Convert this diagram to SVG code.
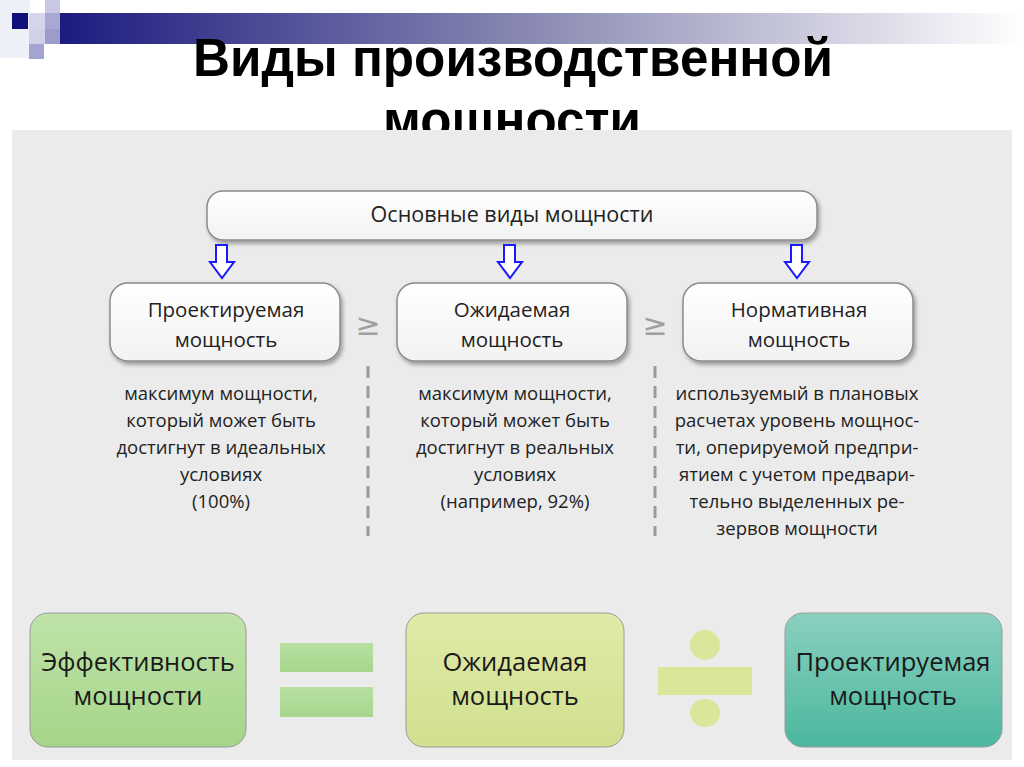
<svg xmlns="http://www.w3.org/2000/svg" width="1024" height="767" viewBox="0 0 1024 767">
<defs>
<linearGradient id="bar" x1="0" y1="0" x2="1" y2="0"><stop offset="0" stop-color="#1c1c80"/><stop offset="0.5" stop-color="#8c8cb4"/><stop offset="1" stop-color="#ffffff"/></linearGradient>
<linearGradient id="wbox" x1="0" y1="0" x2="0" y2="1"><stop offset="0" stop-color="#ffffff"/><stop offset="1" stop-color="#f2f2f2"/></linearGradient>
<linearGradient id="gA" x1="0" y1="0" x2="0" y2="1"><stop offset="0" stop-color="#bfe3a8"/><stop offset="1" stop-color="#a6d58a"/></linearGradient>
<linearGradient id="gB" x1="0" y1="0" x2="0" y2="1"><stop offset="0" stop-color="#e0eaa8"/><stop offset="1" stop-color="#d0e08e"/></linearGradient>
<linearGradient id="gC" x1="0" y1="0" x2="0" y2="1"><stop offset="0" stop-color="#8ad0bf"/><stop offset="1" stop-color="#4cb79f"/></linearGradient>
<linearGradient id="gEq" x1="0" y1="0" x2="0" y2="1"><stop offset="0" stop-color="#b8e0a2"/><stop offset="1" stop-color="#a6d68c"/></linearGradient>
<filter id="sh" x="-10%" y="-10%" width="130%" height="140%"><feDropShadow dx="2" dy="3" stdDeviation="2" flood-color="#000" flood-opacity="0.35"/></filter>
</defs>
<style>
.title{font-family:"Liberation Sans Narrow","Liberation Sans",Arial,sans-serif;font-weight:bold;font-size:53px;fill:#000;text-anchor:middle}
.t{font-family:"Open Sans","Noto Sans",sans-serif;fill:#222;text-anchor:middle}
.d{font-family:"Open Sans","Noto Sans",sans-serif;fill:#222;text-anchor:middle;font-size:18.5px}
.n{font-family:"Open Sans","Noto Sans",sans-serif;fill:#222;text-anchor:middle;font-size:20.5px}
.box{fill:url(#wbox);stroke:#8a8a8a;stroke-width:1.5;filter:url(#sh)}
.arr{fill:#fff;stroke:#1a1aff;stroke-width:2}
.dash{stroke:#9a9a9a;stroke-width:3;stroke-dasharray:12 8}
.ge{font-family:"DejaVu Sans",sans-serif;font-size:30px;fill:#a0a0a0;text-anchor:middle}
.big{font-family:"Open Sans","Noto Sans",sans-serif;font-size:25.5px;fill:#1a1a1a;text-anchor:middle}
.bb{stroke:#9a9a9a;stroke-width:1}
</style>
<rect width="1024" height="767" fill="#fff"/>
<g id="header">
<rect x="60" y="13" width="964" height="31" fill="url(#bar)"/>
<rect x="0" y="0" width="30" height="58" fill="#eef0f8"/>
<rect x="12" y="13" width="16" height="16" fill="#10107a"/>
<rect x="29" y="13" width="16" height="16" fill="#d4d4ea"/>
<rect x="45" y="0" width="15" height="13" fill="#c8c8e2"/>
<rect x="45" y="13" width="15" height="16" fill="#a8a8d2"/>
<rect x="29" y="29" width="16" height="15" fill="#d0d0e8"/>
<rect x="45" y="29" width="15" height="15" fill="#9c9ccc"/>
<rect x="29" y="44" width="15" height="15" fill="#a4a4d0"/>
<text class="title" x="513" y="76" textLength="640" lengthAdjust="spacingAndGlyphs">Виды производственной</text>
<text class="title" x="512" y="138" textLength="258" lengthAdjust="spacingAndGlyphs">мощности</text>
</g>
<rect id="panel" x="12" y="130" width="1000" height="630" fill="#ebebeb"/>
<g id="top">
<rect class="box" x="207" y="191" width="610" height="49" rx="16"/>
<text class="t" x="512" y="222" font-size="21.5">Основные виды мощности</text>
</g>
<g id="connectors">
<path class="arr" d="M216,245 h11 v17 h7 l-12,16 l-12,-16 h6 z"/>
<path class="arr" d="M504,245 h11 v17 h7 l-12,16 l-12,-16 h6 z"/>
<path class="arr" d="M791,245 h11 v17 h7 l-12,16 l-12,-16 h6 z"/>
<text class="ge" x="368" y="335">≥</text>
<text class="ge" x="655" y="335">≥</text>
<line class="dash" x1="368" y1="366" x2="368" y2="536"/>
<line class="dash" x1="655" y1="366" x2="655" y2="536"/>
</g>
<g id="n1">
<rect class="box" x="110" y="283" width="230" height="78" rx="18"/>
<text class="n" x="226" y="317">Проектируемая</text>
<text class="n" x="226" y="347">мощность</text>
</g>
<g id="n2">
<rect class="box" x="397" y="283" width="230" height="78" rx="18"/>
<text class="n" x="512" y="317">Ожидаемая</text>
<text class="n" x="512" y="347">мощность</text>
</g>
<g id="n3">
<rect class="box" x="683" y="283" width="230" height="78" rx="18"/>
<text class="n" x="799" y="317">Нормативная</text>
<text class="n" x="799" y="347">мощность</text>
</g>
<g id="d1">
<text class="d" x="221" y="400">максимум мощности,</text>
<text class="d" x="221" y="427">который может быть</text>
<text class="d" x="221" y="454">достигнут в идеальных</text>
<text class="d" x="221" y="481">условиях</text>
<text class="d" x="221" y="508">(100%)</text>
</g>
<g id="d2">
<text class="d" x="515" y="400">максимум мощности,</text>
<text class="d" x="515" y="427">который может быть</text>
<text class="d" x="515" y="454">достигнут в реальных</text>
<text class="d" x="515" y="481">условиях</text>
<text class="d" x="515" y="508">(например, 92%)</text>
</g>
<g id="d3">
<text class="d" x="797" y="400">используемый в плановых</text>
<text class="d" x="797" y="427">расчетах уровень мощнос-</text>
<text class="d" x="797" y="454">ти, оперируемой предпри-</text>
<text class="d" x="797" y="481">ятием с учетом предвари-</text>
<text class="d" x="797" y="508">тельно выделенных ре-</text>
<text class="d" x="797" y="535">зервов мощности</text>
</g>
<g id="bA">
<rect class="bb" x="30" y="613" width="216" height="134" rx="18" fill="url(#gA)"/>
<text class="big" x="138" y="671">Эффективность</text>
<text class="big" x="138" y="705">мощности</text>
</g>
<g id="eq">
<rect x="280" y="643" width="93" height="29" fill="url(#gEq)"/>
<rect x="280" y="687" width="93" height="30" fill="url(#gEq)"/>
</g>
<g id="bB">
<rect class="bb" x="406" y="613" width="218" height="134" rx="18" fill="url(#gB)"/>
<text class="big" x="515" y="671">Ожидаемая</text>
<text class="big" x="515" y="705">мощность</text>
</g>
<g id="div" fill="#d8e79a">
<ellipse cx="705" cy="645" rx="15" ry="15"/>
<rect x="658" y="667" width="94" height="28"/>
<ellipse cx="705" cy="713" rx="15" ry="14"/>
</g>
<g id="bC">
<rect class="bb" x="785" y="613" width="217" height="134" rx="18" fill="url(#gC)"/>
<text class="big" x="893" y="671">Проектируемая</text>
<text class="big" x="893" y="705">мощность</text>
</g>
</svg>
